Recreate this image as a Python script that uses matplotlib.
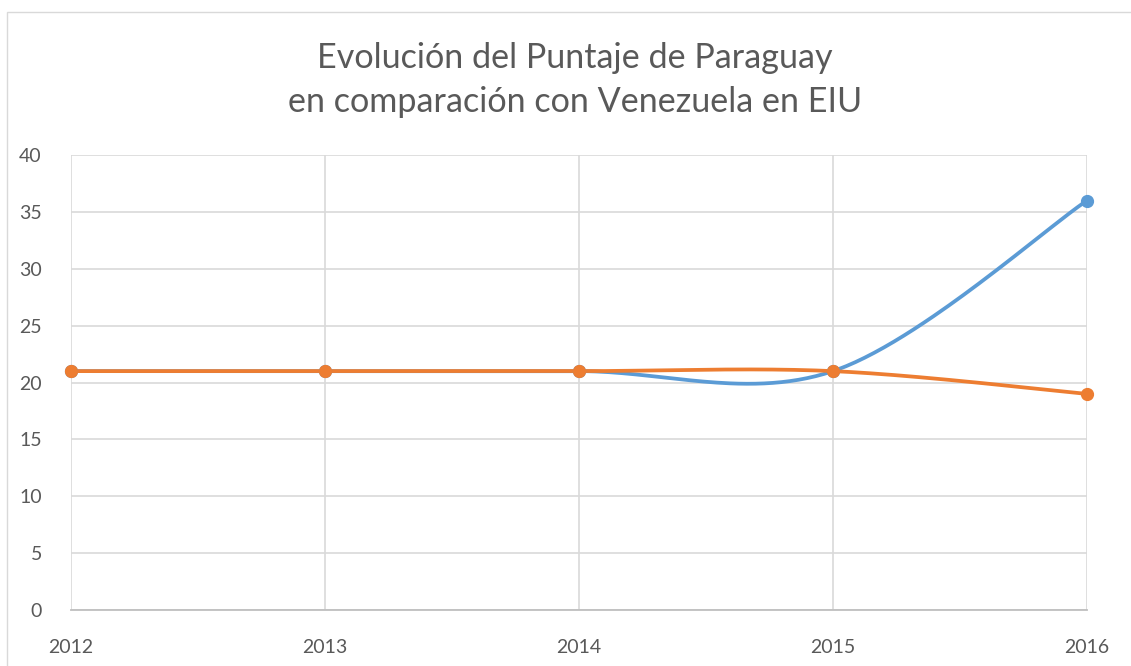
import numpy as np
import matplotlib
matplotlib.use("Agg")
import matplotlib.pyplot as plt
from matplotlib.patches import Rectangle

years = [2012, 2013, 2014, 2015, 2016]
paraguay = [21, 21, 21, 21, 36]
venezuela = [21, 21, 21, 21, 19]
yticks = [0, 5, 10, 15, 20, 25, 30, 35, 40]
title = "Evolución del Puntaje de Paraguay\nen comparación con Venezuela en EIU"

BLUE = "#5B9BD5"
ORANGE = "#ED7D31"
TXT = "#595959"
GRID = "#D9D9D9"

def smooth(xs, ys, n=60):
    xs = np.asarray(xs, float); ys = np.asarray(ys, float)
    px = np.concatenate([[xs[0]], xs, [xs[-1]]])
    py = np.concatenate([[ys[0]], ys, [ys[-1]]])
    ox, oy = [], []
    t = np.linspace(0, 1, n)
    for i in range(1, len(px) - 2):
        p0x, p1x, p2x, p3x = px[i-1], px[i], px[i+1], px[i+2]
        p0y, p1y, p2y, p3y = py[i-1], py[i], py[i+1], py[i+2]
        c1x = p1x + (p2x - p0x) / 6; c1y = p1y + (p2y - p0y) / 6
        c2x = p2x - (p3x - p1x) / 6; c2y = p2y - (p3y - p1y) / 6
        bx = (1-t)**3*p1x + 3*(1-t)**2*t*c1x + 3*(1-t)*t**2*c2x + t**3*p2x
        by = (1-t)**3*p1y + 3*(1-t)**2*t*c1y + 3*(1-t)*t**2*c2y + t**3*p2y
        ox.extend(bx); oy.extend(by)
    return np.array(ox), np.array(oy)

plt.rcParams['font.family'] = ['Lato', 'DejaVu Sans']

W, H = 1131, 666
fig = plt.figure(figsize=(W/100, H/100), dpi=100)
fig.patch.set_facecolor("white")

# chart border
fig.add_artist(Rectangle((7/W, -0.2), 1.5, 1 - 12/H + 0.2, transform=fig.transFigure,
                         fill=False, edgecolor="#D9D9D9", linewidth=1.0))

L, R, T, B = 71, 1087, 155, 610
ax = fig.add_axes([L/W, 1 - B/H, (R-L)/W, (B-T)/H])
ax.set_xlim(years[0], years[-1])
ax.set_ylim(0, 40)
ax.set_yticks(yticks)
ax.set_xticks(years)
ax.set_xticklabels([str(y) for y in years])
ax.grid(True, color=GRID, linewidth=1.2)
ax.set_axisbelow(True)
for s in ["top", "right", "left"]:
    ax.spines[s].set_visible(False)
ax.spines["bottom"].set_color("#BFBFBF")
ax.spines["bottom"].set_linewidth(1.3)
ax.tick_params(length=0, colors=TXT, labelsize=14)
ax.tick_params(axis="y", pad=21)
ax.tick_params(axis="x", pad=21)

for ys, c in [(paraguay, BLUE), (venezuela, ORANGE)]:
    sx, sy = smooth(years, ys)
    ax.plot(sx, sy, color=c, linewidth=2.7, solid_capstyle="round", clip_on=False, zorder=3)
    ax.plot(years, ys, "o", color=c, markersize=8.5, clip_on=False, zorder=4)

fig.text(575/W, 1 - 80/H, title, ha="center", va="center", fontsize=24.6,
         color=TXT, linespacing=1.5)

fig.savefig("out.png", dpi=100, facecolor="white")
